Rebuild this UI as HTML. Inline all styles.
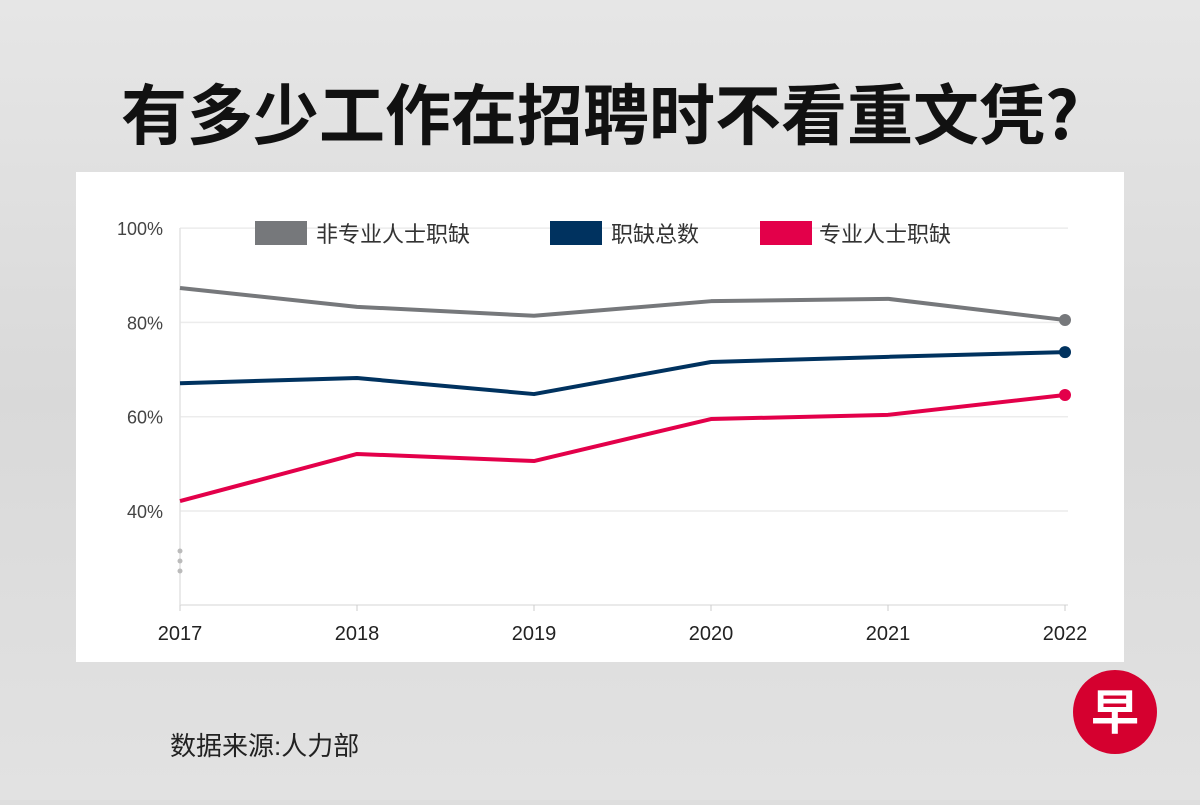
<!DOCTYPE html>
<html><head><meta charset="utf-8"><style>
body{margin:0;width:1200px;height:800px;overflow:hidden;background:#dedede;font-family:"Liberation Sans","Noto Sans CJK SC",sans-serif;}
</style></head><body>
<svg width="1200" height="800">
<defs><linearGradient id="wood" x1="0" y1="0" x2="0" y2="1"><stop offset="0" stop-color="#e6e6e6"/><stop offset="0.5" stop-color="#d9d9d9"/><stop offset="1" stop-color="#e2e2e2"/></linearGradient></defs>
<rect width="1200" height="800" fill="url(#wood)"/>
<text x="600" y="139" text-anchor="middle" font-size="66" font-weight="bold" fill="#111" font-family="Noto Sans CJK SC, sans-serif">有多少工作在招聘时不看重文凭?</text>
<rect x="76" y="172" width="1048" height="490" fill="#fff"/>
<g id="grid"></g><g id="lines"></g>
<g font-size="22" fill="#333">
<rect x="255" y="221" width="52" height="24" fill="#76787b"/><text x="316" y="242">非专业人士职缺</text>
<rect x="550" y="221" width="52" height="24" fill="#00325f"/><text x="611" y="242">职缺总数</text>
<rect x="760" y="221" width="52" height="24" fill="#e3004a"/><text x="819" y="242">专业人士职缺</text>
</g>
<circle cx="180" cy="551" r="2.5" fill="#bbb"/><circle cx="180" cy="561" r="2.5" fill="#bbb"/><circle cx="180" cy="571" r="2.5" fill="#bbb"/>
<text x="170" y="755" font-size="26" fill="#222">数据来源:人力部</text>
<g><circle cx="1115" cy="712" r="42" fill="#d5002f"/><text x="1115" y="729" text-anchor="middle" font-size="48" font-weight="bold" fill="#fff">早</text></g>
</svg>
<script>
const years=["2017","2018","2019","2020","2021","2022"];
const nonPro=[87.3,83.3,81.4,84.5,85.0,80.5];
const total=[67.1,68.2,64.8,71.6,72.7,73.7];
const pro=[42.1,52.1,50.6,59.5,60.4,64.6];
const yTicks=[40,60,80,100];
const NS="http://www.w3.org/2000/svg";
const x=i=>180+i*(1065-180)/(years.length-1);
const y=v=>511-(v-40)*94.3/20;
function mk(t,a,p){const e=document.createElementNS(NS,t);for(const k in a)e.setAttribute(k,a[k]);p.appendChild(e);return e;}
const g=document.getElementById('grid'),L=document.getElementById('lines');
yTicks.forEach(t=>{const l=mk('line',{x1:180,x2:1068,y1:y(t),y2:y(t),stroke:'#ececec','stroke-width':1.5},g);

const tx=mk('text',{x:163,y:y(t)+7,'text-anchor':'end','font-size':18,fill:'#444'},g);tx.textContent=t+'%';
});
const ax=mk('line',{x1:180,x2:1068,y1:605,y2:605,stroke:'#e3e3e3','stroke-width':1.5},g);

const ya=mk('line',{x1:180,x2:180,y1:228,y2:605,stroke:'#e3e3e3','stroke-width':1.5},g);

years.forEach((yr,i)=>{mk('line',{x1:x(i),x2:x(i),y1:605,y2:611,stroke:'#ccc'},g);
const tx=mk('text',{x:x(i),y:640,'text-anchor':'middle','font-size':20,fill:'#222'},g);tx.textContent=yr;
});
[[nonPro,'#76787b','line-nonpro'],[total,'#00325f','line-total'],[pro,'#e3004a','line-pro']].forEach(([d,c,n])=>{
const p=mk('polyline',{points:d.map((v,i)=>x(i)+','+y(v)).join(' '),fill:'none',stroke:c,'stroke-width':4,'stroke-linejoin':'round'},L);

const dot=mk('circle',{cx:x(d.length-1),cy:y(d[d.length-1]),r:6,fill:c},L);
});
</script>
</body></html>
